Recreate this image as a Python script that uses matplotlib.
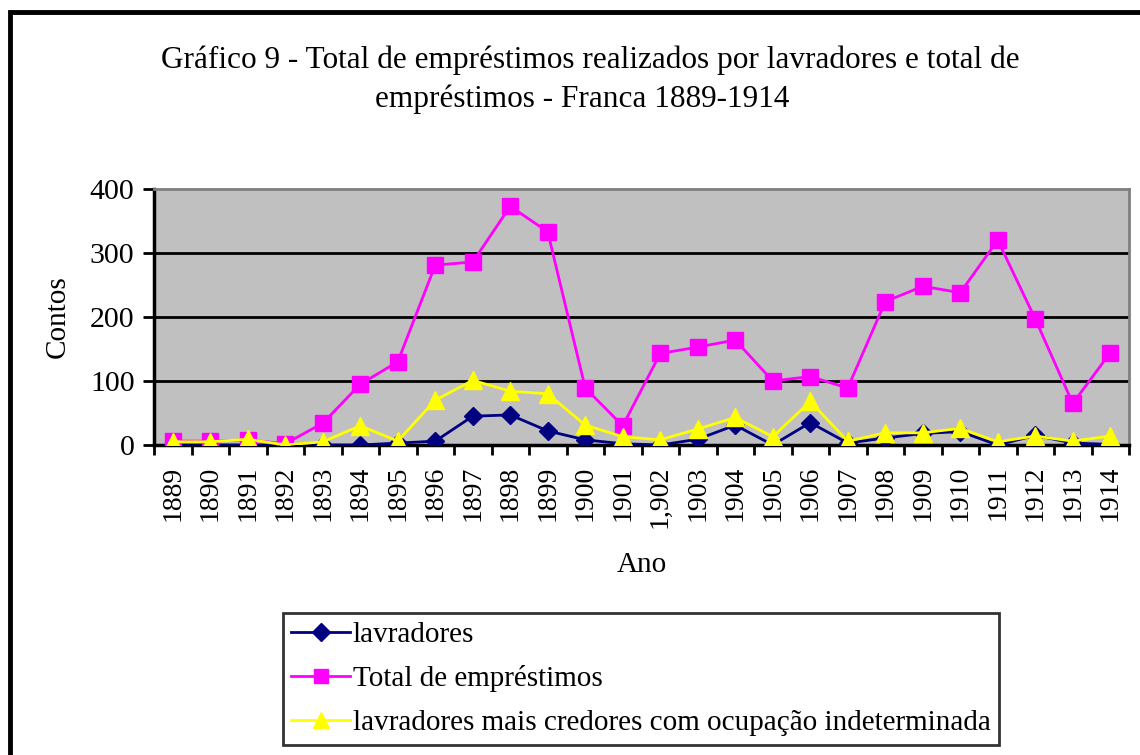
import matplotlib
matplotlib.use("Agg")
import matplotlib.pyplot as plt
from matplotlib.patches import Rectangle
from matplotlib.lines import Line2D

years = ["1889", "1890", "1891", "1892", "1893", "1894", "1895", "1896", "1897", "1898",
         "1899", "1900", "1901", "1,902", "1903", "1904", "1905", "1906", "1907", "1908",
         "1909", "1910", "1911", "1912", "1913", "1914"]
lavradores = [0, 0, 0, 0, 0, 0, 3, 6, 45, 47, 22, 8, 2, 0, 9, 31, 0, 35, 3, 11,
              18, 21, 0, 15, 3, 1]
total = [6, 6, 8, 2, 34, 95, 130, 281, 286, 373, 333, 89, 30, 143, 153, 164, 100, 107,
         89, 224, 248, 238, 320, 197, 65, 144]
indeterminada = [5, 5, 9, 0, 5, 30, 6, 70, 101, 84, 80, 31, 13, 8, 25, 43, 13, 68, 6,
                 19, 19, 26, 5, 14, 6, 14]
yticks = [0, 100, 200, 300, 400]

plt.rcParams['font.family'] = ['Liberation Serif', 'DejaVu Serif']

fig = plt.figure(figsize=(11.4, 7.55), dpi=100)
W, H = 1140, 755

# outer border
fig.patches.append(Rectangle((10 / W, -0.2), 1.2, 1.2 - 12 / H, transform=fig.transFigure,
                             fill=False, edgecolor='black', linewidth=3.5, zorder=0))

fig.text(590 / W, 1 - 60 / H, "Gráfico 9 - Total de empréstimos realizados por lavradores e total de",
         ha='center', va='center', fontsize=22.5)
fig.text(582 / W, 1 - 99 / H, "empréstimos - Franca 1889-1914",
         ha='center', va='center', fontsize=22.5)

left, right, top, bottom = 154, 1129, 189, 445
ax = fig.add_axes([left / W, 1 - bottom / H, (right - left) / W, (bottom - top) / H])
ax.set_facecolor('#C0C0C0')

x = list(range(len(years)))
ax.plot(x, lavradores, color='#000080', marker='D', markersize=9, linewidth=2, zorder=3)
ax.plot(x, total, color='#FF00FF', marker='s', markersize=11, linewidth=2, zorder=4)
ax.plot(x, indeterminada, color='#FFFF00', marker='^', markersize=13, linewidth=2, zorder=5)

ax.set_xlim(-0.5, len(years) - 0.5)
ax.set_ylim(0, 400)
ax.set_yticks(yticks)
ax.set_yticklabels([str(v) for v in yticks], fontsize=21.5)
for v in yticks[1:-1]:
    ax.axhline(v, color='black', linewidth=2, zorder=1)

ax.set_xticks(x)
ax.set_xticklabels(years, rotation=90, fontsize=20)
ax.tick_params(axis='x', length=0, pad=15)
ax.set_xticks([i - 0.5 for i in range(len(years) + 1)], minor=True)
ax.tick_params(axis='x', which='minor', length=7.5, width=2, direction='out')
ax.tick_params(axis='y', length=8, width=2, direction='out', pad=6)

ax.spines['left'].set_linewidth(2.5)
ax.spines['bottom'].set_linewidth(2.5)
ax.spines['top'].set_color('#808080')
ax.spines['top'].set_linewidth(2)
ax.spines['right'].set_color('#808080')
ax.spines['right'].set_linewidth(2)

ax.set_ylabel("Contos", fontsize=21, labelpad=14)
ax.set_xlabel("Ano", fontsize=21, labelpad=17)

handles = [
    Line2D([], [], color='#000080', marker='D', markersize=9, linewidth=2),
    Line2D([], [], color='#FF00FF', marker='s', markersize=10, linewidth=2),
    Line2D([], [], color='#FFFF00', marker='^', markersize=12, linewidth=2),
]
labels = ["lavradores", "Total de empréstimos", "lavradores mais credores com ocupação indeterminada"]
leg = fig.legend(handles, labels, loc='center', bbox_to_anchor=(641 / W, 1 - 679 / H),
                 fontsize=21, frameon=True, fancybox=False, edgecolor='black',
                 handlelength=2.0, handletextpad=0.1, borderpad=0.3, labelspacing=0.6,
                 borderaxespad=0)
leg.get_frame().set_linewidth(2)

fig.savefig("out.png", dpi=100)
